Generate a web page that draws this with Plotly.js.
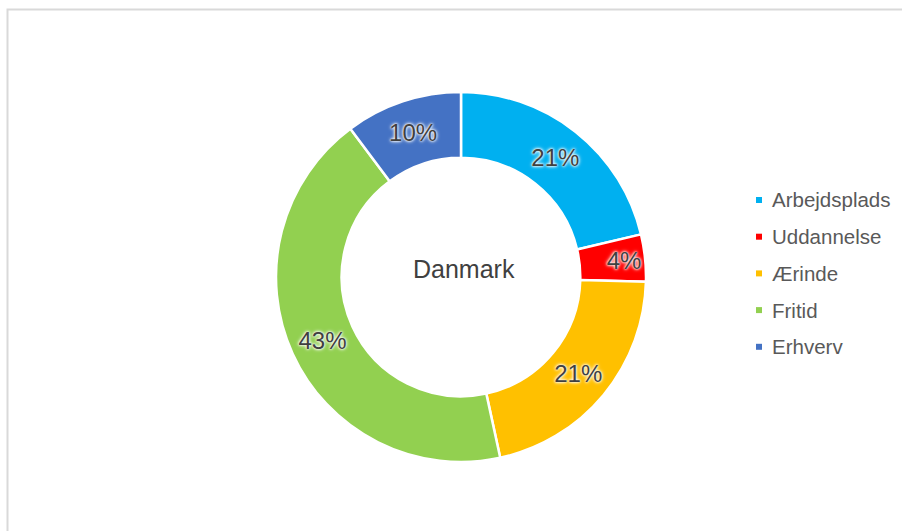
<!DOCTYPE html>
<html>
<head>
<meta charset="utf-8">
<script src="https://cdn.plot.ly/plotly-3.0.1.min.js"></script>
<style>
html,body{margin:0;padding:0;background:#fff;}
#chart{width:902px;height:531px;}
</style>
</head>
<body>
<div id="chart"></div>
<script>
// Data
const categories = ["Arbejdsplads", "Uddannelse", "Ærinde", "Fritid", "Erhverv"];
const values = [21.3, 4.1, 21.2, 43.2, 10.2];
const colors = ["#00B0F0", "#FF0000", "#FFC000", "#92D050", "#4472C4"];
const centerLabel = "Danmark";

const W = 902, H = 531;
const px = x => x / W;
const py = y => 1 - y / H;

// Pie geometry (pixels)
const cx = 461, cy = 277, R = 185;

const trace = {
  type: "pie",
  labels: categories,
  values: values,
  sort: false,
  direction: "clockwise",
  rotation: 0,
  hole: 0.645,
  marker: { colors: colors, line: { color: "#ffffff", width: 2.5 } },
  texttemplate: "%{percent:.0%}",
  textposition: "inside",
  insidetextorientation: "horizontal",
  textfont: {
    family: "Liberation Sans, Arial, sans-serif",
    size: 24,
    color: "#404040",
    shadow: "0px 0px 2px #ffffff, 0px 0px 3px #ffffff, 0px 0px 4px #ffffff"
  },
  hoverinfo: "none",
  showlegend: false,
  domain: { x: [px(cx - R), px(cx + R)], y: [py(cy + R), py(cy - R)] }
};

// Manual legend
const legX = 759, legY0 = 200, legStep = 36.7, sq = 6;
const shapes = [{
  type: "rect", xref: "paper", yref: "paper",
  x0: px(7.5), x1: 1.05, y0: -0.05, y1: py(9.5),
  line: { color: "#d9d9d9", width: 2 }, fillcolor: "rgba(0,0,0,0)"
}];
const annotations = [{
  text: centerLabel, xref: "paper", yref: "paper",
  x: px(464), y: py(269), xanchor: "center", yanchor: "middle",
  showarrow: false,
  font: { family: "Liberation Sans, Arial, sans-serif", size: 25, color: "#404040" }
}];
categories.forEach((c, i) => {
  const y = legY0 + i * legStep;
  shapes.push({
    type: "rect", xref: "paper", yref: "paper",
    x0: px(legX - sq / 2), x1: px(legX + sq / 2),
    y0: py(y + sq / 2), y1: py(y - sq / 2),
    line: { width: 0 }, fillcolor: colors[i]
  });
  annotations.push({
    text: c, xref: "paper", yref: "paper",
    x: px(770), y: py(y), xanchor: "left", yanchor: "middle",
    showarrow: false,
    font: { family: "Liberation Sans, Arial, sans-serif", size: 20.5, color: "#595959" }
  });
});

const layout = {
  width: W, height: H,
  margin: { l: 0, r: 0, t: 0, b: 0 },
  paper_bgcolor: "#ffffff",
  plot_bgcolor: "#ffffff",
  showlegend: false,
  uniformtext: { minsize: 24, mode: "show" },
  shapes: shapes,
  annotations: annotations
};

Plotly.newPlot("chart", [trace], layout, { displayModeBar: false, staticPlot: true });
</script>
</body>
</html>
